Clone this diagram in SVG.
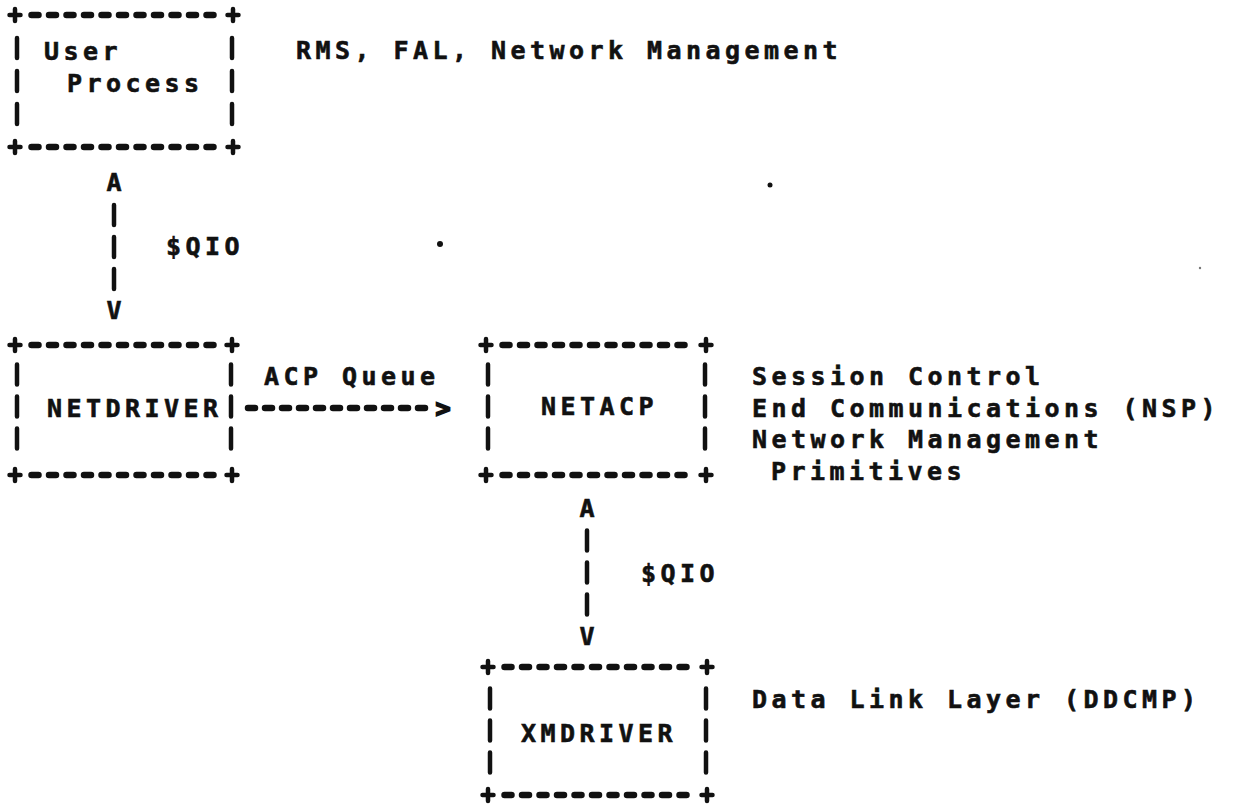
<svg xmlns="http://www.w3.org/2000/svg" xmlns:xlink="http://www.w3.org/1999/xlink" width="1245" height="804" viewBox="0 0 1245 804">
<style>
  .t { font-family: "DejaVu Sans Mono", "Liberation Mono", monospace; font-weight: bold; font-size: 25px; fill: #111; stroke: #111; stroke-width: 0.6px; letter-spacing: 4.45px; }
  .g { font-family: "DejaVu Sans Mono", "Liberation Mono", monospace; font-weight: bold; font-size: 25px; fill: #111; stroke: #111; stroke-width: 0.6px; text-anchor: middle; }
  .h { stroke: #111; stroke-width: 6.5; stroke-linecap: round; stroke-dasharray: 7 10.5; fill: none; }
  .v { stroke: #111; stroke-width: 4.5; stroke-linecap: round; fill: none; }
  .a { stroke: #111; stroke-width: 6.5; stroke-linecap: round; stroke-dasharray: 7 10; fill: none; }
</style>
<defs>
  <path id="plus" d="M-5.5 0H5.5M0 -6V6" stroke="#111" stroke-width="4.5" stroke-linecap="round"/>
</defs>
<rect width="1245" height="804" fill="#fff"/>

<g id="user-process">
  <use xlink:href="#plus" x="15" y="15"/><use xlink:href="#plus" x="233" y="15"/>
  <use xlink:href="#plus" x="15" y="147"/><use xlink:href="#plus" x="233" y="147"/>
  <line class="h" x1="31.5" y1="15" x2="213.5" y2="15"/>
  <line class="h" x1="31.5" y1="147" x2="213.5" y2="147"/>
  <line class="v" x1="17" y1="38" x2="17" y2="124" stroke-dasharray="20 13"/>
  <line class="v" x1="232" y1="38" x2="232" y2="124" stroke-dasharray="20 13"/>
  <text class="t" x="44" y="59.5">User</text>
  <text class="t" x="67" y="91.5">Process</text>
</g>

<g id="netdriver">
  <use xlink:href="#plus" x="15" y="345"/><use xlink:href="#plus" x="232" y="345"/>
  <use xlink:href="#plus" x="15" y="475"/><use xlink:href="#plus" x="232" y="475"/>
  <line class="h" x1="31.5" y1="345" x2="213.5" y2="345"/>
  <line class="h" x1="31.5" y1="475" x2="213.5" y2="475"/>
  <line class="v" x1="17" y1="364.5" x2="17" y2="448.5" stroke-dasharray="20 12"/>
  <line class="v" x1="231" y1="364.5" x2="231" y2="448.5" stroke-dasharray="20 12"/>
  <text class="t" x="47" y="416.5">NETDRIVER</text>
</g>

<g id="netacp">
  <use xlink:href="#plus" x="486" y="345"/><use xlink:href="#plus" x="706" y="345"/>
  <use xlink:href="#plus" x="486" y="475"/><use xlink:href="#plus" x="706" y="475"/>
  <line class="h" x1="502.5" y1="345" x2="684.5" y2="345"/>
  <line class="h" x1="502.5" y1="475" x2="684.5" y2="475"/>
  <line class="v" x1="488" y1="364.5" x2="488" y2="448.5" stroke-dasharray="20 12"/>
  <line class="v" x1="705" y1="364.5" x2="705" y2="448.5" stroke-dasharray="20 12"/>
  <text class="t" x="541" y="414.5">NETACP</text>
</g>

<g id="xmdriver">
  <use xlink:href="#plus" x="488" y="667"/><use xlink:href="#plus" x="707" y="667"/>
  <use xlink:href="#plus" x="488" y="795"/><use xlink:href="#plus" x="707" y="795"/>
  <line class="h" x1="504.5" y1="667" x2="686.5" y2="667"/>
  <line class="h" x1="504.5" y1="795" x2="686.5" y2="795"/>
  <line class="v" x1="490" y1="688.5" x2="490" y2="772.5" stroke-dasharray="20 12"/>
  <line class="v" x1="706" y1="688.5" x2="706" y2="772.5" stroke-dasharray="20 12"/>
  <text class="t" x="521" y="741.5">XMDRIVER</text>
</g>

<g id="connectors">
  <g id="qio-user-netdriver">
    <text class="g" x="114" y="190.5">A</text>
    <line class="v" x1="114" y1="205" x2="114" y2="289" stroke-dasharray="20 12"/>
    <text class="g" x="114" y="318.5">V</text>
    <text class="t" x="166" y="254.5">$QIO</text>
  </g>
  <g id="acp-queue">
    <line class="a" x1="248" y1="408" x2="425" y2="408"/>
    <text class="g" x="443" y="417" style="stroke-width:1.8px">&gt;</text>
    <text class="t" x="264" y="384.5">ACP Queue</text>
  </g>
  <g id="qio-netacp-xmdriver">
    <text class="g" x="587" y="516.5">A</text>
    <line class="v" x1="587" y1="530.5" x2="587" y2="614.5" stroke-dasharray="20 12"/>
    <text class="g" x="587" y="644.5">V</text>
    <text class="t" x="641" y="581.5">$QIO</text>
  </g>
</g>

<g id="annotations">
  <text class="t" x="296" y="58.5">RMS, FAL, Network Management</text>
  <text class="t" x="752" y="384.5">Session Control</text>
  <text class="t" x="752" y="416.5">End Communications (NSP)</text>
  <text class="t" x="752" y="447.5">Network Management</text>
  <text class="t" x="771" y="479.5">Primitives</text>
  <text class="t" x="752" y="707.5">Data Link Layer (DDCMP)</text>
</g>

<g id="specks" fill="#111">
  <circle cx="440" cy="244" r="3"/>
  <circle cx="770" cy="185" r="2.5"/>
  <circle cx="1200" cy="268" r="1.2" fill="#777"/>
</g>
</svg>
